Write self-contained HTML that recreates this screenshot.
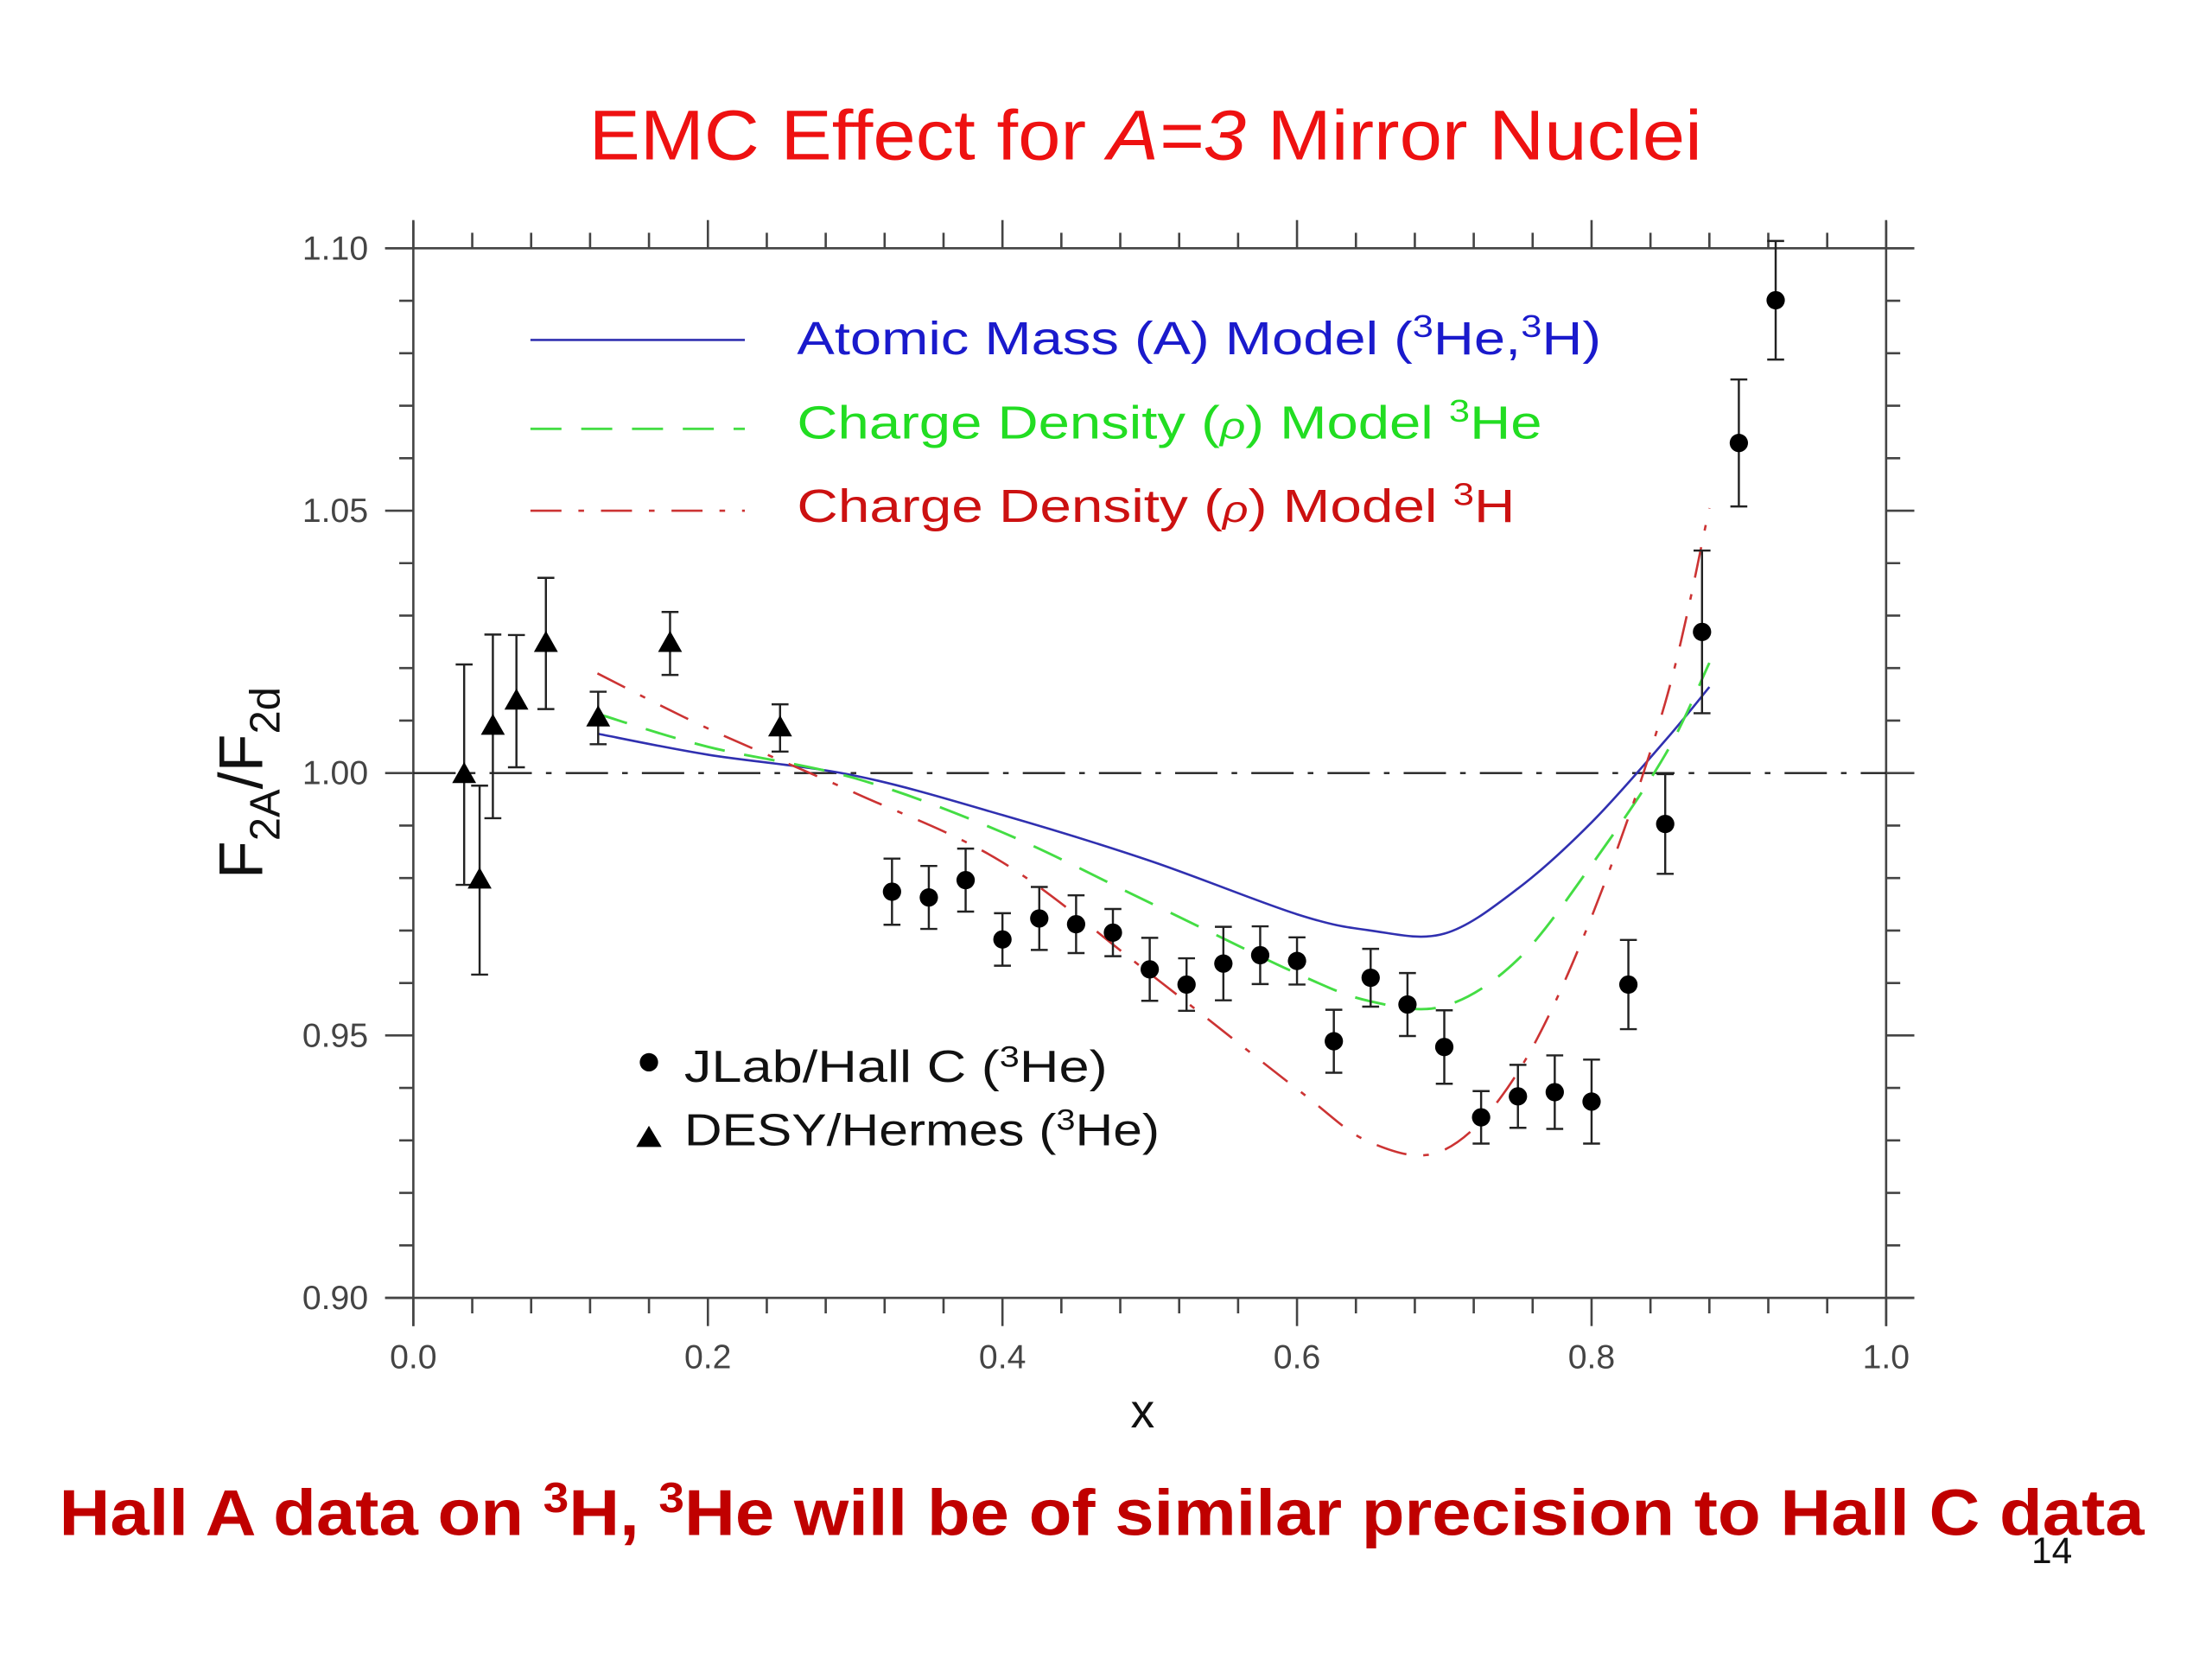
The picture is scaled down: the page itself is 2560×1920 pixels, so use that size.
<!DOCTYPE html>
<html><head><meta charset="utf-8"><style>
html,body{margin:0;padding:0;background:#fff;}
svg{display:block;}
text{font-family:"Liberation Sans",sans-serif;}
</style></head><body>
<svg id="chart" width="2560" height="1920" viewBox="0 0 1568 1176" xmlns="http://www.w3.org/2000/svg">
<rect width="1568" height="1176" fill="#fff"/>
<text x="812" y="113" font-size="50" fill="#ee1111" text-anchor="middle" textLength="789" lengthAdjust="spacingAndGlyphs">EMC Effect for <tspan font-style="italic">A=3</tspan> Mirror Nuclei</text>
<g id="axes"></g>
<g id="marks"></g>
<text x="810" y="1012" font-size="34" fill="#111" text-anchor="middle">x</text>
<text transform="translate(186,555) rotate(-90)" font-size="44" fill="#111" text-anchor="middle">F<tspan font-size="30" dy="12">2A</tspan><tspan dy="-12">/F</tspan><tspan font-size="30" dy="12">2d</tspan></text>
<g>
<line x1="376" y1="241" x2="528" y2="241" stroke="#3030b0" stroke-width="1.6"/>
<text x="565" y="251" font-size="33" fill="#1a1acc" textLength="570" lengthAdjust="spacingAndGlyphs">Atomic Mass (A) Model (<tspan font-size="22" dy="-12">3</tspan><tspan dy="12">He,</tspan><tspan font-size="22" dy="-12">3</tspan><tspan dy="12">H)</tspan></text>
<line x1="376" y1="304" x2="528" y2="304" stroke="#44dd44" stroke-width="1.8" stroke-dasharray="22,14"/>
<text x="565" y="311" font-size="33" fill="#22dd22" textLength="528" lengthAdjust="spacingAndGlyphs">Charge Density (<tspan font-style="italic" font-size="26">ρ</tspan>) Model <tspan font-size="22" dy="-12">3</tspan><tspan dy="12">He</tspan></text>
<line x1="376" y1="362" x2="528" y2="362" stroke="#cc3333" stroke-width="1.6" stroke-dasharray="22,12,4,12"/>
<text x="565" y="370" font-size="33" fill="#cc1111" textLength="509" lengthAdjust="spacingAndGlyphs">Charge Density (<tspan font-style="italic" font-size="26">ρ</tspan>) Model <tspan font-size="22" dy="-12">3</tspan><tspan dy="12">H</tspan></text>
</g>
<g>
<circle cx="460" cy="753" r="6.5" fill="#000"/>
<text x="485" y="767" font-size="32" fill="#111" textLength="300" lengthAdjust="spacingAndGlyphs">JLab/Hall C (<tspan font-size="21" dy="-11">3</tspan><tspan dy="11">He)</tspan></text>
<polygon points="460,798 469,813 451,813" fill="#000"/>
<text x="485" y="812" font-size="32" fill="#111" textLength="337" lengthAdjust="spacingAndGlyphs">DESY/Hermes (<tspan font-size="21" dy="-11">3</tspan><tspan dy="11">He)</tspan></text>
</g>
<text x="42" y="1088" font-size="46" font-weight="bold" fill="#c00000" textLength="1478" lengthAdjust="spacingAndGlyphs">Hall A data on <tspan font-size="30" dy="-16">3</tspan><tspan dy="16">H, </tspan><tspan font-size="30" dy="-16">3</tspan><tspan dy="16">He will be of similar precision to Hall C data</tspan></text>
<text x="1440" y="1108" font-size="26" fill="#111">14</text>
</svg>
<script>
const jlabX=[0.325,0.35,0.375,0.4,0.425,0.45,0.475,0.5,0.525,0.55,0.575,0.6,0.625,0.65,0.675,0.7,0.725,0.75,0.775,0.8,0.825,0.85,0.875,0.9,0.925];
const jlabY=[0.9774,0.9763,0.9796,0.9683,0.9723,0.9712,0.9696,0.9626,0.9597,0.9637,0.9653,0.9642,0.9489,0.9610,0.9559,0.9478,0.9344,0.9384,0.9392,0.9374,0.9597,0.9903,1.0269,1.0629,1.0901];
const jlabErr=[0.0063,0.006,0.006,0.005,0.006,0.0055,0.0045,0.006,0.005,0.007,0.0055,0.0045,0.006,0.0055,0.006,0.007,0.005,0.006,0.007,0.008,0.0085,0.0095,0.0155,0.0121,0.0113];
const desyX=[0.0345,0.045,0.054,0.070,0.090,0.1255,0.1743,0.249];
const desyY=[0.9997,0.9796,1.0089,1.0137,1.0247,1.0105,1.0247,1.0086];
const desyErr=[0.021,0.018,0.0175,0.0126,0.0125,0.005,0.006,0.0045];
const modelX=[0.125,0.2,0.3,0.4,0.5,0.6,0.65,0.7,0.75,0.8,0.85,0.88];
const atomicY=[1.0075,1.0035,0.9995,0.992,0.9833,0.9731,0.970,0.9694,0.978,0.9906,1.0062,1.0164];
const rhoHeY=[1.0113,1.005,0.999,0.9887,0.9753,0.9618,0.9565,0.9556,0.9645,0.9825,1.0035,1.021];
const rhoHY=[1.019,1.0085,0.9962,0.983,0.9618,0.9398,0.9296,0.9282,0.943,0.9726,1.0134,1.0505];
const xTickLabels=["0.0","0.2","0.4","0.6","0.8","1.0"];
const yTickLabels=["0.90","0.95","1.00","1.05","1.10"];

const NS="http://www.w3.org/2000/svg";
const X0=293,X1=1337,YT=176,YB=920;
function sx(v){return X0+v*(X1-X0);}
function sy(v){return YB-(v-0.9)/0.2*(YB-YT);}
function mk(tag,attrs,parent){const e=document.createElementNS(NS,tag);for(const k in attrs)e.setAttribute(k,attrs[k]);parent.appendChild(e);return e;}
const axes=document.getElementById('axes'),marks=document.getElementById('marks');
const st={stroke:"#444","stroke-width":1.6};
let e;
e=mk('line',Object.assign({x1:273,y1:YT,x2:1357,y2:YT},st),axes);


e=mk('line',Object.assign({x1:273,y1:YB,x2:1357,y2:YB},st),axes);


e=mk('line',Object.assign({x1:X0,y1:157,x2:X0,y2:940},st),axes);


e=mk('line',Object.assign({x1:X1,y1:157,x2:X1,y2:940},st),axes);


for(let i=0;i<=25;i++){
  const v=i*0.04,x=sx(v),major=(i%5===0),L=major?20:11;
  e=mk('line',Object.assign({x1:x,y1:YB,x2:x,y2:YB+L},st),axes);
  
  
  e=mk('line',Object.assign({x1:x,y1:YT,x2:x,y2:YT-L},st),axes);
  
  
}
xTickLabels.forEach((t,i)=>{
  e=mk('text',{x:sx(i*0.2),y:970,"font-size":24,fill:"#444","text-anchor":"middle"},axes);
  e.textContent=t;
  
  
});
for(let i=0;i<=20;i++){
  const v=0.9+i*0.01,y=sy(v),major=(i%5===0),L=major?20:10;
  e=mk('line',Object.assign({x1:X0,y1:y,x2:X0-L,y2:y},st),axes);
  
  
  e=mk('line',Object.assign({x1:X1,y1:y,x2:X1+L,y2:y},st),axes);
  
  
}
yTickLabels.forEach((t,i)=>{
  e=mk('text',{x:261,y:sy(0.9+i*0.05)+8,"font-size":24,fill:"#444","text-anchor":"end"},axes);
  e.textContent=t;
  
  
});
e=mk('line',{x1:X0,y1:sy(1.0),x2:X1,y2:sy(1.0),stroke:"#222","stroke-width":1.5,"stroke-dasharray":"30,10,4,10"},marks);



function smooth(xs,ys){
  const p=xs.map((x,i)=>[sx(x),sy(ys[i])]);
  let d="M"+p[0][0]+","+p[0][1];
  for(let i=0;i<p.length-1;i++){
    const p0=p[i-1]||p[i],p1=p[i],p2=p[i+1],p3=p[i+2]||p[i+1];
    const c1=[p1[0]+(p2[0]-p0[0])/6,p1[1]+(p2[1]-p0[1])/6];
    const c2=[p2[0]-(p3[0]-p1[0])/6,p2[1]-(p3[1]-p1[1])/6];
    d+=" C"+c1+" "+c2+" "+p2;
  }
  return d;
}
e=mk('path',{d:smooth(modelX,atomicY),fill:"none",stroke:"#3030b0","stroke-width":1.6},marks);


e=mk('path',{d:smooth(modelX,rhoHeY),fill:"none",stroke:"#44dd44","stroke-width":1.8,"stroke-dasharray":"22,14"},marks);


e=mk('path',{d:smooth(modelX,rhoHY),fill:"none",stroke:"#cc3333","stroke-width":1.6,"stroke-dasharray":"22,12,4,12"},marks);



function errbar(x,y,er){
  const X=sx(x),a=sy(y+er),b=sy(y-er);
  const g=mk('path',{d:`M${X},${a}V${b}M${X-6},${a}H${X+6}M${X-6},${b}H${X+6}`,stroke:"#222","stroke-width":1.5,fill:"none"},marks);
  
  
}
jlabX.forEach((x,i)=>{
  errbar(x,jlabY[i],jlabErr[i]);
  const c=mk('circle',{cx:sx(x),cy:sy(jlabY[i]),r:6.5,fill:"#000"},marks);
  
  
});
desyX.forEach((x,i)=>{
  errbar(x,desyY[i],desyErr[i]);
  const X=sx(x),Y=sy(desyY[i]);
  const t=mk('polygon',{points:`${X},${Y-9} ${X+8.5},${Y+6} ${X-8.5},${Y+6}`,fill:"#000"},marks);
  
  
});
</script>
</body></html>
